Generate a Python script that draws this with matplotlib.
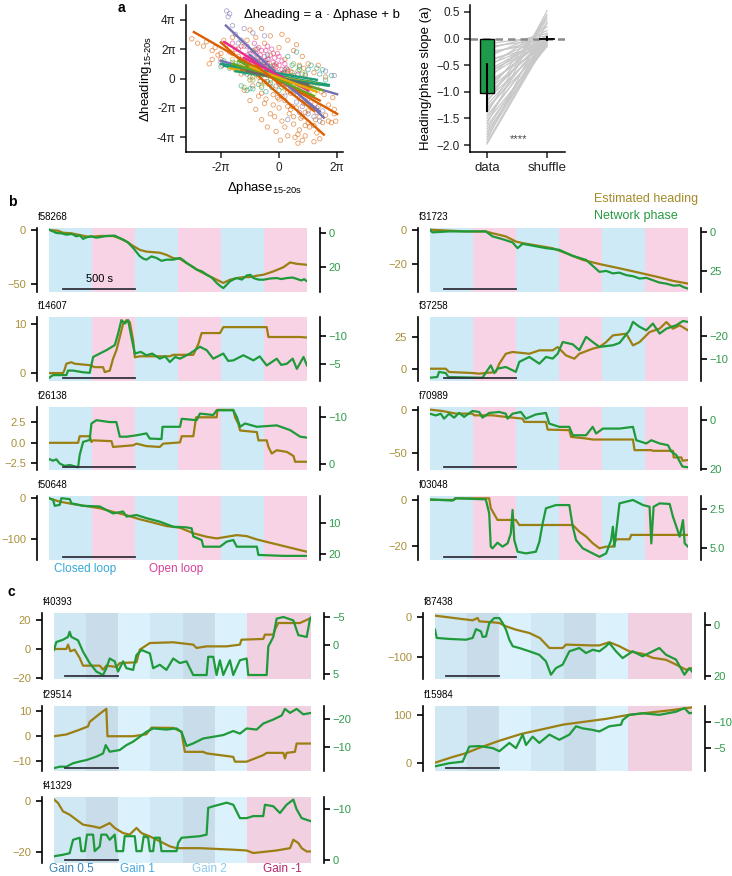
import numpy as np
import matplotlib
matplotlib.use("Agg")
import matplotlib.pyplot as plt
import matplotlib.transforms as mtransforms

plt.rcParams['font.family'] = ['Liberation Sans', 'DejaVu Sans']
plt.rcParams['mathtext.fontset'] = 'custom'
plt.rcParams['mathtext.rm'] = 'Liberation Sans'
plt.rcParams['axes.unicode_minus'] = True

W, H = 732, 876

# ---- panel a, left: scatter of heading vs phase changes (units of pi) ----
DARK2 = ["#1b9e77", "#d95f02", "#7570b3", "#e7298a", "#66a61e", "#e6ab02", "#a6761d", "#666666"]

orange_x = [-3.0, -2.8, -2.6, -2.5, -2.3, -2.2, -2.1, -2.0, -1.9, -1.8, -1.7, -1.6, -1.5, -1.4, -1.3, -1.2, -1.1, -1.0,
            -0.9, -0.8, -0.7, -0.6, -0.5, -0.4, -0.3, -0.2, -0.1, 0.0, 0.1, 0.2, 0.3, 0.4, 0.5, 0.6, 0.7, 0.8, 0.9, 1.0, 1.1,
            -1.2, -1.0, -0.9, -0.8, -0.7, -0.6, -0.5, -0.4, -0.3, -0.2, -0.1, 0.0, 0.05, 0.1, 0.2, 0.3, 0.35, 0.4, 0.5,
            0.55, 0.6, 0.7, 0.75, 0.8, 0.9, 1.0, 1.05, 1.1, 1.2, 1.25, 1.3, 1.35, 1.4, 1.5, 1.6, 1.7, 1.8, 1.9, 1.95, 1.85,
            1.45, 1.3, 0.95, -0.15, -0.35, -0.65, 0.25, 0.15, -1.5, -1.3, -1.0, -0.9, -0.7, -0.5, -0.3, -0.1, 0.0, 0.3,
            0.45, 0.6, 0.85, 1.2, 1.35, 1.6, -1.95, -2.0, -2.3, -2.4, 0.65, 0.9, 1.15, -0.05, 0.45, 0.75, 1.55,
            -0.2, 0.1, 0.4, 0.6, 0.85, 1.0, -0.45, 0.2, 0.5, 0.8, 1.15, 1.4, -0.6, 0.0, 0.3, 0.65, 0.9, 1.2, -1.6, -1.1,
            -0.75, -0.25, 1.7, 1.9]
orange_y = [2.7, 2.4, 2.2, 2.5, 1.9, 2.1, 1.6, 1.3, 2.6, 2.3, 1.8, 2.8, 2.0, 1.5, 2.2, 1.2, 2.6, 3.3,
            1.9, 2.8, 1.4, 3.4, 2.4, 1.0, 2.9, 1.7, 0.8, 2.1, 3.0, 1.3, 2.6, 0.5, 1.9, 2.3, 0.9, 1.5, 0.2, 1.0, -0.3,
            -0.8, -1.5, -0.5, -2.1, -1.2, -2.8, -1.7, -3.3, -2.4, -1.1, -3.6, -2.0, -4.2, -2.9, -1.5, -3.9, -2.4, -1.0, -3.1,
            -4.0, -2.0, -3.5, -1.4, -2.6, -3.9, -2.2, -3.3, -1.6, -4.3, -2.8, -3.7, -1.9, -4.1, -3.0, -2.5, -1.8, -3.0, -2.4, -2.9, -1.3,
            -0.9, -2.3, -0.6, -2.6, -0.4, -0.2, -0.4, 0.3, 0.6, 0.3, 0.9, 0.1, 0.6, -0.2, 0.4, -0.5, 0.2, -0.9,
            0.4, -0.3, 0.7, 0.4, 0.9, 0.1, 0.9, 1.7, 1.3, 1.0, -4.4, -3.2, -2.0, -1.3, -1.9, -2.7, -1.1,
            -1.8, -1.2, -2.1, -1.1, -1.7, -3.0, -1.4, -3.3, -2.6, -4.2, -2.0, -2.6, -1.0, -1.4, -1.9, -3.8, -2.3, -3.2, 1.7, 1.4,
            2.0, 0.4, -2.9, -2.1]
teal_x = [-2.0, -1.9, -1.7, -1.4, -1.2, -1.0, -0.8, -0.6, -0.5, -0.3, -0.2, 0.0, 0.2, 0.3, 0.5, 0.7, 0.9, 1.0, 1.2,
          1.4, 1.6, 1.8, -1.1, -0.9, 0.6, 0.4, -0.4, 1.1, -1.3, -0.7, -0.1, 0.1, 0.8, 1.3, -1.6, -0.45, 0.45, 1.5,
          -0.25, 0.65]
teal_y = [0.8, 1.2, 0.7, 0.9, 0.4, -0.7, 0.3, -0.6, 1.1, -0.3, 0.5, -0.8, 0.6, 1.5, 0.2, 0.8, 0.3, 0.6, -0.2,
          0.3, -0.1, 0.2, -0.8, -0.7, 1.8, -0.5, 1.6, 0.9, -0.5, -0.4, 0.4, -0.2, -0.4, 0.7, 1.1, -0.9, 0.9, 0.6,
          -0.6, 0.5]
purple_x = [-1.8, -1.7, -1.75, -1.5, -1.3, -1.0, -0.8, -0.6, -0.4, -0.2, 0.0, 0.2, 0.4, 0.6, 0.8, 1.0, 1.2, 1.4, 1.5,
            -1.2, -0.5, 0.3, 1.9, 1.6, -2.0, -1.9, -0.9, -1.6, -1.1, -0.7, -0.3, 0.1, 0.5, 0.9, 1.3, -1.4, 0.7]
purple_y = [4.6, 4.4, 4.2, 3.0, 2.6, 1.7, 2.0, 0.9, 1.3, 0.2, -0.4, -1.2, -0.6, -1.6, -1.9, -2.4, -2.6, -2.9, -2.2,
            3.4, 2.9, -2.8, 0.2, 0.5, 1.1, 1.0, 3.1, 3.6, 2.2, 1.2, 0.8, -0.1, -1.0, -1.5, -2.0, 2.4, -2.3]
pink_x = [-1.6, -1.4, -1.2, -1.1, -1.0, -0.9, -0.8, -0.7, -0.6, -0.5, -0.45, -0.4, -0.35, -0.3, -0.25, -0.2, -0.15, -0.1,
          0.0, 0.1, 0.15, 0.25, 0.35, 0.5, 0.65, 0.8, -0.55, -0.75, -0.95, -0.65, -0.25, -0.05, 0.2, 1.0, -1.3, -0.85,
          -0.9, -0.7, -0.5, -0.3, -0.1, 0.1, -0.8, -0.6, -0.4, -0.2, 0.0, 0.2, -1.0, -0.55, -0.35, -0.15, 0.05, 0.3,
          -0.75, -0.45]
pink_y = [2.4, 2.0, 2.2, 1.6, 1.9, 1.3, 1.7, 2.1, 1.2, 1.5, 1.9, 0.9, 1.3, 1.6, 0.7, 1.1, 1.4, 0.5,
          0.9, 1.2, 0.4, 0.7, 0.1, -0.2, 0.3, -0.5, 0.6, 0.9, 1.0, 1.6, 2.0, 1.7, -0.3, -1.0, 1.3, 2.4,
          0.6, 0.3, 0.8, 0.2, 1.0, 0.6, 1.1, 1.9, 2.2, 0.4, 1.5, 1.0, 1.3, 1.0, 0.5, 0.9, 0.3, 0.5,
          1.4, 1.2]
lgreen_x = [-1.5, -1.1, -0.9, -0.6, -0.3, 0.0, 0.3, 0.6, 0.9, 1.1, -0.4, 0.2, 1.3, -1.2, 0.5, -0.8, -0.2, 0.4, 0.8,
            -1.0, 0.1, 0.7, -0.5]
lgreen_y = [1.0, 0.5, -0.1, 0.2, -0.1, 0.1, -0.3, -0.6, -0.9, -0.4, 0.6, 0.4, -0.6, -0.6, 1.0, 0.7, 0.9, 0.2, 0.3,
            0.1, -0.6, 0.6, -0.3]
yellow_x = [-1.3, -0.9, -0.6, -0.3, 0.0, 0.4, 0.7, 1.0, -0.5, 0.2, 1.2, -1.6]
yellow_y = [0.8, 0.5, -0.5, 0.2, -0.1, -0.2, -0.5, -0.2, 0.9, -0.7, -1.0, 1.3]
brown_x = [-1.0, -0.5, 0.0, 0.5, 0.9, -0.7, 0.3]
brown_y = [-0.1, 0.4, -0.3, -0.8, -0.4, 0.1, 0.6]
grey_x = [-1.1, -0.4, 0.1, 0.6, 1.0]
grey_y = [0.3, -0.2, 0.3, -0.1, -0.7]

# per-fly linear fits: colour index, x range, slope a, intercept b
fit_color = [1, 1, 2, 2, 0, 3, 0, 4, 5, 1, 2, 3, 0, 6, 7, 4, 5, 1]
fit_x0 = [-2.93, -2.0, -1.83, -2.0, -1.89, -1.89, -2.0, -1.6, -1.7, -1.2, -1.0, -1.2, -1.5, -1.3, -1.1, -1.4, -1.0, -0.8]
fit_x1 = [2.0, 1.54, 1.54, 2.0, 1.71, 0.3, 1.3, 1.5, 1.4, 1.4, 1.4, 1.0, 1.7, 1.1, 1.0, 1.2, 1.3, 1.2]
fit_a = [-1.13, -1.77, -1.86, -0.57, -0.36, -1.23, -0.33, -0.58, -0.35, -0.96, -1.6, -1.0, -0.31, -0.5, -0.43, -0.92, -0.74, -1.55]
fit_b = [-0.15, -1.09, 0.2, 0.07, 0.18, 0.16, 0.34, 0.07, 0.1, -0.15, 0.0, 0.2, 0.03, -0.05, 0.03, -0.09, 0.06, -0.34]

# ---- panel a, right: slopes per fly ----
slope_data = [-0.10, -0.15, -0.20, -0.25, -0.30, -0.35, -0.40, -0.45, -0.50, -0.55, -0.60, -0.62, -0.68, -0.72,
              -0.78, -0.82, -0.88, -0.92, -0.98, -1.02, -1.05, -1.10, -1.15, -1.20, -1.25, -1.30, -1.35, -1.40,
              -1.45, -1.50, -1.55, -1.60, -1.65, -1.70, -1.75, -1.80, -1.85, -1.90, -1.95, -1.98]
slope_shuffle = [0.05, -0.02, 0.10, -0.08, 0.02, 0.15, -0.12, 0.03, -0.05, 0.22, 0.0, -0.10, 0.06, -0.03,
                 0.28, -0.14, 0.01, 0.08, -0.06, 0.35, -0.01, 0.04, -0.09, 0.40, 0.02, -0.13, 0.07, 0.45,
                 -0.04, 0.03, -0.15, 0.52, -0.07, 0.01, -0.11, 0.05, -0.02, 0.30, 0.0, -0.05]
data_mean = -1.02
data_err = (-1.37, -0.45)
shuffle_mean = 0.0
shuffle_err = (-0.05, 0.05)

# ---- panel b: closed/open loop traces (time s, value) ----
f58268_heading = [(0, 0), (63, -0.6), (98, -2.5), (156, -3), (214, -4.6), (266, -6), (308, -6.1), (354, -5.5), (447, -5.5),
                  (494, -7.7), (541, -10.7), (587, -14.7), (634, -18.4), (680, -20), (773, -21), (820, -23), (867, -26),
                  (914, -26.7), (960, -30.7), (1007, -34.4), (1053, -38.3), (1100, -41.4), (1146, -44.5), (1193, -47.5),
                  (1216, -49), (1263, -46), (1310, -44.5), (1356, -43.6), (1403, -43.6), (1450, -42.3), (1496, -41.4),
                  (1566, -38.3), (1636, -34.4), (1682, -30), (1729, -31.3), (1800, -32.2)]
f58268_phase = [(0, -2), (51, 0), (90, 0.3), (121, 1), (160, 0.6), (191, 2), (215, 1.4), (238, 3.5), (260, 2.6),
                (296, 2), (330, 2.8), (354, 2.5), (400, 1.8), (459, 1.6), (490, 2.9), (517, 3.9), (550, 5.5), (587, 8.8),
                (610, 11.2), (634, 13.7), (660, 15.2), (680, 15.7), (715, 13.8), (750, 14.7), (785, 16.4), (820, 15.7),
                (867, 15.7), (914, 14.7), (940, 16.2), (960, 17.6), (1000, 19.8), (1030, 21.6), (1065, 22.5),
                (1100, 24.5), (1135, 26.2), (1170, 29.4), (1195, 31.2), (1216, 32.4), (1240, 30.4), (1263, 28.4),
                (1290, 27.2), (1310, 26.5), (1345, 27.4), (1380, 25), (1405, 24.6), (1426, 26.5), (1460, 27.4),
                (1496, 27.5), (1540, 26.8), (1590, 26.5), (1620, 27.1), (1660, 26.5), (1700, 26.2), (1729, 27),
                (1760, 27.9), (1780, 27.2), (1800, 28.4)]
f14607_heading = [(0, 0), (98, 0), (109, 0.7), (121, 1.9), (156, 2.2), (179, 1.9), (284, 1.6), (319, 1.2), (377, 1.2),
                  (389, 0.2), (424, 0.5), (447, 2.9), (470, 4.6), (494, 7.3), (517, 10), (541, 10.7), (564, 10.3),
                  (587, 6.6), (599, 3.2), (634, 3.4), (843, 3.4), (867, 3.7), (1007, 3.7), (1042, 5.9), (1065, 8.1),
                  (1193, 8.1), (1216, 9.3), (1519, 9.3), (1531, 7.3), (1752, 7.3), (1800, 7.2)]
f14607_phase = [(0, -2.6), (28, -3.1), (121, -3.1), (133, -3.9), (168, -3.9), (238, -3.6), (284, -3.5), (308, -6.3),
                (354, -6.9), (401, -7.5), (459, -8.4), (482, -10.4), (505, -12.8), (529, -12.2), (552, -12.8), (575, -9.8),
                (599, -6.9), (640, -7.2), (680, -6.6), (720, -6.9), (773, -6.0), (810, -6.4), (843, -5.4), (880, -6.3),
                (914, -6.0), (983, -6.9), (1053, -8.1), (1100, -7.5), (1146, -6.0), (1216, -6.9), (1250, -5.6),
                (1286, -5.7), (1356, -6.6), (1426, -5.7), (1470, -6.4), (1519, -4.8), (1589, -6.0), (1620, -4.9),
                (1659, -5.1), (1700, -6.0), (1729, -4.2), (1776, -6.3), (1800, -4.8)]
f26138_heading = [(0, 0), (203, 0), (214, 0.8), (284, 0.8), (296, 0.1), (308, 0.3), (436, 0.2), (447, -0.5), (587, -0.3),
                  (611, -0.1), (680, -0.4), (773, -0.5), (797, -0.1), (914, 0.05), (926, 0.8), (1007, 0.8), (1026, 3.1),
                  (1170, 3.1), (1175, 4.0), (1286, 4.0), (1298, 3.1), (1321, 2.3), (1333, 1.5), (1450, 1.3), (1461, 0.3),
                  (1519, 0.3), (1531, -0.5), (1554, -1.3), (1589, -0.9), (1659, -1.1), (1706, -1.6), (1717, -2.3),
                  (1800, -2.3)]
f26138_phase = [(0, -1.06), (28, -0.7), (51, -1.0), (75, -0.1), (110, 0.4), (145, 0.2), (203, 0.7), (214, -1.9),
                (238, -4.7), (284, -5.1), (296, -8.6), (331, -9.3), (424, -8.9), (470, -8.9), (494, -5.8), (541, -5.8),
                (611, -6.1), (680, -6.5), (703, -5.4), (785, -5.3), (792, -7.9), (914, -7.9), (926, -9.6), (1030, -9.3),
                (1053, -10.7), (1146, -10.4), (1170, -11.4), (1286, -11.4), (1310, -10.0), (1333, -7.9), (1368, -8.6),
                (1450, -7.9), (1589, -8.2), (1682, -7.2), (1752, -5.8), (1800, -5.6)]
f50648_heading = [(0, 0), (75, -8), (168, -14), (261, -19), (354, -24), (447, -33), (541, -41), (634, -51), (727, -59),
                  (820, -67.5), (914, -71.5), (1007, -85), (1100, -93.5), (1170, -97.5), (1240, -93.5), (1310, -89.5),
                  (1380, -92), (1450, -100), (1519, -106), (1613, -114), (1706, -122), (1800, -130)]
f50648_phase = [(0, 2.3), (28, 2.8), (40, 4.7), (75, 4.4), (86, 2.3), (145, 2.6), (156, 3.9), (238, 4.7), (354, 4.9),
                (447, 7.1), (517, 6.5), (541, 8.1), (611, 7.6), (680, 8.6), (773, 9.7), (867, 11.3), (960, 11.5),
                (995, 11.8), (1007, 14.4), (1065, 15.5), (1077, 17.6), (1193, 17.6), (1240, 16), (1286, 15.5),
                (1310, 17.6), (1450, 17.6), (1461, 20.2), (1636, 20.5), (1800, 20.5)]
f31723_heading = [(0, 0), (250, -1), (389, -1), (433, -2), (529, -3.9), (599, -6.9), (646, -7.8), (856, -10.8),
                  (949, -13.7), (1066, -17.6), (1182, -20), (1322, -22.5), (1462, -25.1), (1602, -27.8), (1695, -29.8),
                  (1800, -31.4)]
f31723_phase = [(0, -1.5), (16, 0.2), (133, -0.4), (389, -0.4), (436, 2.8), (506, 4.6), (576, 6.7), (611, 10.4),
                (646, 7.6), (809, 10.4), (902, 11.5), (996, 15.4), (1089, 18), (1182, 25.7), (1230, 25.1), (1276, 26.7),
                (1320, 26.2), (1369, 27.8), (1420, 28.6), (1462, 30), (1510, 29.6), (1555, 31.1), (1600, 32.6),
                (1649, 33.3), (1700, 34.6), (1742, 34.3), (1770, 35.6), (1800, 36.5)]
f37258_heading = [(0, 0), (110, 0), (133, -2.6), (296, -3.4), (343, -3.9), (459, -2.6), (483, 3.9), (529, 11.8),
                  (576, 13.2), (693, 11.8), (763, 14.5), (856, 14.5), (891, 17.1), (949, 10.5), (1007, 7.9),
                  (1042, 11.8), (1135, 15.8), (1182, 17.1), (1229, 21), (1276, 26.3), (1369, 27.6), (1416, 18.4),
                  (1462, 21), (1532, 28.9), (1602, 31.6), (1649, 36.8), (1695, 31.6), (1742, 34.2), (1800, 30.3)]
f37258_phase = [(0, -2.1), (51, -2.4), (63, -4.6), (110, -4.1), (128, -2.4), (366, -2.1), (424, -7.4), (448, -4.1),
                (471, -6), (529, -6.7), (599, -4.6), (623, -8.9), (693, -11), (763, -8.1), (809, -11), (856, -10.3),
                (891, -12.4), (926, -17.4), (996, -16.4), (1042, -13.9), (1089, -19.6), (1135, -17.4), (1182, -15.3),
                (1276, -16), (1322, -17), (1392, -22.4), (1416, -26), (1462, -23.9), (1509, -22.4), (1555, -25.3),
                (1602, -21), (1649, -23.1), (1719, -24.6), (1765, -26.4), (1800, -26)]
f70989_heading = [(0, 0.8), (86, -0.8), (180, -3.9), (296, -3.9), (308, -5.9), (436, -5.9), (529, -7.8), (646, -9.8),
                  (658, -13.7), (809, -13.7), (821, -22.7), (972, -23.4), (984, -31.3), (1089, -33.2), (1135, -34.4),
                  (1416, -34.4), (1427, -46.9), (1544, -46.9), (1555, -47.7), (1695, -47.7), (1700, -55.5),
                  (1754, -55.5), (1761, -59.4), (1800, -58.6)]
f70989_phase = [(0, -2.4), (40, -1.7), (75, -2.4), (98, -0.4), (133, -2.4), (168, -0.8), (203, -2.7), (238, -1.1),
                (296, -3.5), (343, -3.1), (366, -0.8), (413, -2.7), (483, -3.1), (529, -2.4), (541, -0.4), (576, -2.4),
                (634, -3.1), (669, -0.4), (739, -2.1), (809, -2.7), (832, 1.6), (902, 2.9), (972, 2.9), (996, 6.3),
                (1089, 6.3), (1135, 2.9), (1159, 5.6), (1206, 3.6), (1322, 3.6), (1416, 2.9), (1439, 8.3), (1509, 9.6),
                (1544, 8.3), (1602, 9.6), (1660, 10.3), (1684, 12.9), (1719, 14.3), (1742, 16.9), (1761, 18.9),
                (1800, 19.2)]
f03048_heading = [(0, 0), (168, 0), (175, 0.7), (413, 0.7), (424, -3.6), (471, -8.7), (599, -8.7), (623, -10.9),
                  (996, -10.9), (1042, -13.8), (1089, -15.9), (1135, -18.8), (1182, -21), (1229, -20.3), (1276, -20.3),
                  (1299, -17.1), (1392, -17.1), (1404, -15.2), (1800, -15.2)]
f03048_phase = [(0, 1.85), (156, 1.93), (180, 1.78), (389, 1.85), (413, 2.76), (424, 4.93), (436, 5.04), (471, 4.67),
                (506, 4.93), (541, 4.72), (564, 4.07), (576, 2.54), (588, 4.5), (611, 5.26), (669, 5.37), (739, 5.26),
                (763, 4.61), (786, 3.41), (809, 2.43), (879, 2.22), (972, 2.22), (996, 3.63), (1019, 4.5), (1066, 5.04),
                (1135, 5.37), (1182, 5.59), (1229, 5.37), (1264, 4.5), (1276, 3.63), (1287, 4.93), (1322, 2.11),
                (1416, 1.89), (1486, 2.22), (1532, 2.33), (1544, 4.72), (1560, 2.33), (1602, 2.11), (1672, 2.15),
                (1695, 2.98), (1719, 3.63), (1742, 4.28), (1765, 3.2), (1777, 4.72), (1800, 4.93)]

# ---- panel c: gain-change traces ----
f40393_heading = [(0, 0), (115, 0), (131, 3), (153, -1.6), (193, -0.5), (240, -6.2), (271, -11.5), (428, -11.5),
                  (458, -14.3), (489, -11.5), (583, -12.4), (614, -9.7), (770, -9.2), (801, -0.5), (895, 4.1),
                  (1113, 4.6), (1300, 3), (1331, 0.7), (1425, 1.8), (1612, 1.8), (1736, 3), (1751, 6.4), (1954, 6.9),
                  (1970, 9.9), (2048, 9.9), (2063, 13.3), (2094, 17.9), (2297, 17.9), (2400, 21.4)]
f40393_phase = [(0, 0.8), (22, -0.6), (84, -1), (131, -1.5), (146, -2.4), (162, -1.5), (224, -0.9), (271, 1.1),
                (333, 3.1), (396, 4.6), (458, 5.2), (489, 4), (520, 2.3), (567, 2.8), (598, 4.6), (645, 2.8), (676, 4),
                (739, 4.3), (770, 1.7), (817, 0.8), (895, 1.4), (926, 4), (988, 3.4), (1050, 4.3), (1113, 2.3),
                (1175, 3.1), (1237, 2.8), (1300, 5.2), (1425, 5.2), (1440, 2), (1487, 2), (1518, 5.2), (1549, 2.6),
                (1581, 5.2), (1643, 2.6), (1674, 5.2), (1736, 2.6), (1799, 2.3), (1814, 5.2), (1986, 5.2), (2001, 0.2),
                (2048, -1.5), (2079, -4.7), (2141, -5), (2235, -4.4), (2282, -1.8), (2360, -1.5), (2391, -4.7),
                (2400, -4.9)]
f29514_heading = [(0, 0), (115, 0.7), (240, 2.6), (318, 3.9), (333, 5.7), (427, 8.9), (489, 10.9), (499, 0), (739, 0),
                  (863, 0.8), (910, 3.4), (1113, 3.3), (1191, 1.7), (1222, -6.2), (1393, -6.2), (1425, -6.8),
                  (1674, -8.2), (1690, -10.1), (1799, -10.1), (1954, -7.5), (1986, -6.6), (2141, -6.6), (2157, -8.8),
                  (2172, -6.6), (2250, -6.2), (2266, -2.9), (2400, -2.9)]
f29514_phase = [(0, -2.8), (53, -3.3), (115, -3.3), (178, -4.5), (240, -5.1), (302, -5.6), (396, -6.8), (458, -7.9),
                (483, -10.8), (520, -8.5), (614, -9.1), (676, -10.8), (739, -12), (801, -13.7), (863, -15.4),
                (926, -16.6), (1050, -16.2), (1144, -16.6), (1191, -15.4), (1238, -10.5), (1300, -11.4), (1393, -13.1),
                (1487, -13.7), (1581, -14.3), (1674, -15.7), (1736, -14.8), (1799, -16.6), (1892, -16.2), (1954, -18.3),
                (2048, -19.7), (2126, -21.1), (2157, -23.4), (2204, -22), (2266, -23.4), (2328, -21.5), (2400, -22)]
f41329_heading = [(0, 0.4), (37, -0.9), (84, -4.2), (146, -5.5), (209, -7.5), (271, -9.4), (365, -10.1), (427, -10.7),
                  (520, -8.8), (567, -10.7), (645, -12.7), (707, -13.3), (770, -10.7), (817, -12.7), (895, -14),
                  (988, -15.9), (1082, -17.9), (1144, -18.6), (1362, -18.6), (1674, -19.2), (1799, -19.5),
                  (1861, -20.5), (2079, -19.5), (2204, -18.6), (2235, -15.3), (2282, -16.6), (2313, -18.6),
                  (2360, -19.9), (2400, -19.9)]
f41329_phase = [(0, -0.8), (84, -1.1), (146, -1.4), (178, -4), (240, -4.4), (255, -1.8), (287, -1.8), (308, -5),
                (365, -5), (380, -1.8), (427, -2.7), (442, -5), (489, -5), (520, -4), (567, -5), (583, -1.8), (645, -1.8),
                (660, -4.7), (754, -4.7), (770, -1.8), (817, -1.8), (838, -4.7), (879, -4.4), (895, -1.8), (926, -1.8),
                (941, -4.4), (988, -4.4), (1004, -1.8), (1144, -1.8), (1160, -3.4), (1191, -4.4), (1362, -4.7),
                (1425, -5), (1440, -10.2), (1487, -10.5), (1612, -11.2), (1674, -10.8), (1736, -8.2), (1799, -8.2),
                (1861, -8.6), (1954, -8.6), (1970, -10.8), (2048, -10.5), (2110, -9.2), (2172, -10.8), (2235, -11.8),
                (2266, -9.9), (2313, -8.2), (2400, -7.6)]
f87438_heading = [(0, 3.3), (103, 0), (227, -4.2), (352, -8.3), (398, -2.5), (414, -10.8), (538, -13.3), (601, -15),
                  (663, -23.3), (756, -31.7), (881, -40), (979, -52.5), (1068, -77.5), (1192, -77.5), (1223, -69),
                  (1457, -71), (1535, -71), (1628, -63), (1721, -73), (1815, -86), (1940, -92), (2033, -102),
                  (2158, -107), (2251, -119), (2345, -132), (2400, -127.5)]
f87438_phase = [(0, 1.7), (16, 5), (134, 5.4), (289, 5.7), (352, 5), (383, 1.5), (429, 2.4), (445, 4.6), (476, 4.4),
                (507, -0.9), (554, -2.9), (601, -2.9), (632, -0.9), (663, 1.7), (694, 5.7), (726, 8.3), (788, 9),
                (881, 10.3), (974, 11.7), (1036, 14.3), (1083, 19.6), (1129, 17), (1192, 15.6), (1255, 10.3),
                (1348, 9), (1410, 11), (1473, 9.7), (1535, 10.3), (1597, 8.3), (1628, 7), (1690, 10.3), (1752, 13),
                (1846, 10.3), (1939, 12.3), (2033, 10.3), (2095, 9), (2158, 11.7), (2251, 13.6), (2329, 19.6),
                (2375, 17), (2400, 18.3)]
f15984_heading = [(0, 0), (165, 12), (290, 20), (400, 30), (600, 46), (800, 60), (1000, 70), (1200, 80), (1400, 86),
                  (1600, 92), (1800, 100), (2000, 105), (2200, 110), (2400, 116)]
f15984_phase = [(0, -1.5), (134, -2.1), (258, -2.4), (321, -5.3), (414, -5.4), (539, -5), (601, -4.4), (694, -6),
                (756, -5), (819, -7.6), (850, -5.6), (912, -7.2), (974, -6), (1068, -7.6), (1161, -6.6), (1255, -7.6),
                (1317, -9.2), (1379, -8.8), (1472, -8.5), (1535, -8.2), (1628, -9.2), (1737, -9.5), (1753, -10.4),
                (1815, -11.4), (1939, -11.7), (2095, -11.4), (2251, -12), (2329, -12.7), (2375, -11.7), (2400, -11.8)]

# colours
HEAD_C = "#9b7f12"
HEAD_TICK = "#a8903a"
PHASE_C = "#1f9a3a"
PHASE_TICK = "#2f9a4a"
CL_C = "#cdeaf6"
OL_C = "#f8d3e5"
G05_C = "#c8dcea"
G1_C = "#cfe8f4"
G2_C = "#dbf1fb"
GN_C = "#f0d0e1"
BLOCK = 300.0


def rect(x0, y0, x1, y1):
    return [x0 / W, 1 - y1 / H, (x1 - x0) / W, (y1 - y0) / H]


def trace_panel(fig, r, name, heading, phase, hlim, hticks, plim, pticks, blocks, bar_text=None):
    ax = fig.add_axes(r)
    tw = ax.twinx()
    for i, c in enumerate(blocks):
        ax.axvspan(i * BLOCK, (i + 1) * BLOCK, color=c, lw=0, zorder=0)
    t, v = zip(*heading)
    ax.plot(t, v, color=HEAD_C, lw=1.6, zorder=2)
    t, v = zip(*phase)
    tw.plot(t, v, color=PHASE_C, lw=1.6, zorder=2)
    ax.set_xlim(0, len(blocks) * BLOCK)
    ax.set_ylim(*hlim)
    tw.set_ylim(*plim)
    ax.set_yticks(hticks)
    tw.set_yticks(pticks)
    ax.set_xticks([])
    for a in (ax, tw):
        for s in ("top", "bottom"):
            a.spines[s].set_visible(False)
    ax.spines["right"].set_visible(False)
    tw.spines["left"].set_visible(False)
    ax.spines["left"].set_position(("outward", 9))
    tw.spines["right"].set_position(("outward", 9))
    ax.spines["left"].set_linewidth(1.2)
    tw.spines["right"].set_linewidth(1.2)
    ax.tick_params(axis="y", labelcolor=HEAD_TICK, labelsize=8, length=4, width=1.2)
    tw.tick_params(axis="y", labelcolor=PHASE_TICK, labelsize=8, length=4, width=1.2, pad=2.5)
    trans = mtransforms.blended_transform_factory(ax.transData, ax.transAxes)
    tw.plot([100, 600], [0.05, 0.05], color="#33333d", lw=1.3, transform=trans, zorder=3)
    if bar_text:
        tw.text(350, 0.2, bar_text, transform=trans, ha="center", va="center", fontsize=8, zorder=3)
    ax.annotate(name, xy=(0, 1), xycoords="axes fraction", xytext=(-8, 4), textcoords="offset points",
                fontsize=7, ha="left", va="bottom")
    return ax


fig = plt.figure(figsize=(W / 100, H / 100), dpi=100)

# ---- a left ----
ax = fig.add_axes(rect(186, 5, 343, 152))
groups = [(orange_x, orange_y, 1), (teal_x, teal_y, 0), (purple_x, purple_y, 2), (pink_x, pink_y, 3),
          (lgreen_x, lgreen_y, 4), (yellow_x, yellow_y, 5), (brown_x, brown_y, 6), (grey_x, grey_y, 7)]
for gx, gy, ci in groups:
    ax.scatter(gx, gy, s=10, facecolors="none", edgecolors=DARK2[ci], linewidths=0.6, alpha=0.6, zorder=2)
for ci, x0, x1, a, b in zip(fit_color, fit_x0, fit_x1, fit_a, fit_b):
    xs = np.array([x0, x1])
    ax.plot(xs, a * xs + b, color=DARK2[ci], lw=1.7, zorder=3)
ax.set_xlim(-3.2, 2.2)
ax.set_ylim(-5, 5)
ax.set_xticks([-2, 0, 2])
ax.set_xticklabels(["-2π", "0", "2π"])
ax.set_yticks([-4, -2, 0, 2, 4])
ax.set_yticklabels(["-4π", "-2π", "0", "2π", "4π"])
for s in ("top", "right"):
    ax.spines[s].set_visible(False)
for s in ("left", "bottom"):
    ax.spines[s].set_linewidth(1.1)
ax.tick_params(labelsize=8.5, length=4, width=1.1, colors="#222222")
ax.set_xlabel("Δphase$_{\\mathregular{15‐20s}}$", fontsize=9.5, labelpad=4)
ax.set_ylabel("Δheading$_{\\mathregular{15‐20s}}$", fontsize=9.5, labelpad=2)
ax.text(0.37, 0.93, "Δheading = a · Δphase + b", transform=ax.transAxes, fontsize=9.5, ha="left", va="center")

# ---- a right ----
ax = fig.add_axes(rect(470, 5, 565, 152))
for d, s in zip(slope_data, slope_shuffle):
    ax.plot([0, 1], [d, s], color="#c8c8c8", lw=0.9, zorder=1)
ax.axhline(0, color="#8a8a8a", lw=1.8, ls=(0, (3, 2)), zorder=2)
ax.bar([0], [data_mean], width=0.22, color="#1f9a4a", edgecolor="black", lw=1, zorder=3)
ax.vlines(0, data_err[0], data_err[1], color="black", lw=1.5, zorder=4)
ax.plot([0.89, 1.11], [shuffle_mean, shuffle_mean], color="black", lw=1.3, zorder=4)
ax.vlines(1, shuffle_err[0], shuffle_err[1], color="black", lw=1.3, zorder=4)
ax.text(0.53, -1.89, "****", ha="center", va="center", fontsize=8, color="#444444")
ax.set_xlim(-0.283, 1.3)
ax.set_ylim(-2.13, 0.63)
ax.set_xticks([0, 1])
ax.set_xticklabels(["data", "shuffle"], fontsize=9.5)
ax.set_yticks([-2.0, -1.5, -1.0, -0.5, 0.0, 0.5])
for s in ("top", "right"):
    ax.spines[s].set_visible(False)
for s in ("left", "bottom"):
    ax.spines[s].set_linewidth(1.1)
ax.tick_params(axis="y", labelsize=8.5)
ax.tick_params(length=4, width=1.1, colors="#222222")
ax.set_ylabel("Heading/phase slope (a)", fontsize=9.5, labelpad=3)

# ---- b ----
b_blocks = [CL_C, OL_C, CL_C, OL_C, CL_C, OL_C]
trace_panel(fig, rect(49, 228, 307, 292), "f58268", f58268_heading, f58268_phase,
            (-57.4, 1.9), [-50, 0], (34.7, -2.9), [0, 20], b_blocks, "500 s")
trace_panel(fig, rect(49, 317, 307, 381), "f14607", f14607_heading, f14607_phase,
            (-1.6, 11.35), [0, 10], (-2.06, -13.35), [-10, -5], b_blocks)
trace_panel(fig, rect(49, 407, 307, 470), "f26138", f26138_heading, f26138_phase,
            (-3.3, 4.35), [-2.5, 0.0, 2.5], (1.27, -12.1), [-10, 0], b_blocks)
trace_panel(fig, rect(49, 496, 307, 560), "f50648", f50648_heading, f50648_phase,
            (-150, 5.7), [-100, 0], (21.8, 1.6), [10, 20], b_blocks)
trace_panel(fig, rect(430, 228, 688, 292), "f31723", f31723_heading, f31723_phase,
            (-36.3, 1), [-20, 0], (38.7, -2.6), [0, 25], b_blocks)
trace_panel(fig, rect(430, 317, 688, 381), "f37258", f37258_heading, f37258_phase,
            (-9.7, 40.8), [0, 25], (-0.7, -28.1), [-20, -10], b_blocks)
trace_panel(fig, rect(430, 407, 688, 470), "f70989", f70989_heading, f70989_phase,
            (-70.3, 3.9), [-50, 0], (20.3, -5.1), [0, 20], b_blocks)
trace_panel(fig, rect(430, 496, 688, 560), "f03048", f03048_heading, f03048_phase,
            (-26.1, 1.7), [-20, 0], (5.8, 1.63), [2.5, 5.0], b_blocks)

fig.text(594 / W, 1 - 199 / H, "Estimated heading", color="#a38a2a", fontsize=9, va="center")
fig.text(594 / W, 1 - 216 / H, "Network phase", color="#2a9a44", fontsize=9, va="center")
fig.text(54 / W, 1 - 569 / H, "Closed loop", color="#35a8d8", fontsize=8.5, va="center")
fig.text(149 / W, 1 - 569 / H, "Open loop", color="#d8409a", fontsize=8.5, va="center")

# ---- c ----
c_blocks = [G1_C, G05_C, G2_C, G1_C, G05_C, G2_C, GN_C, GN_C]
trace_panel(fig, rect(54, 613, 311, 679), "f40393", f40393_heading, f40393_phase,
            (-20.7, 24.8), [-20, 0, 20], (5.9, -5.7), [-5, 0, 5], c_blocks)
trace_panel(fig, rect(54, 706, 311, 771), "f29514", f29514_heading, f29514_phase,
            (-13.8, 12), [-10, 0, 10], (-1.8, -24.4), [-20, -10], c_blocks)
trace_panel(fig, rect(54, 797, 311, 863), "f41329", f41329_heading, f41329_phase,
            (-24.4, 1.4), [-20, 0], (0.5, -12.3), [-10, 0], c_blocks)
trace_panel(fig, rect(435, 613, 692, 679), "f87438", f87438_heading, f87438_phase,
            (-155, 10), [-100, 0], (21.3, -4.9), [0, 20], c_blocks)
trace_panel(fig, rect(435, 706, 692, 771), "f15984", f15984_heading, f15984_phase,
            (-17.4, 118.9), [0, 100], (-0.6, -13.1), [-10, -5], c_blocks)

fig.text(49 / W, 1 - 869 / H, "Gain 0.5", color="#3b84b8", fontsize=8.5, va="center")
fig.text(120 / W, 1 - 869 / H, "Gain 1", color="#45a9dc", fontsize=8.5, va="center")
fig.text(192 / W, 1 - 869 / H, "Gain 2", color="#8ccbea", fontsize=8.5, va="center")
fig.text(263 / W, 1 - 869 / H, "Gain -1", color="#b4286c", fontsize=8.5, va="center")

# panel letters
fig.text(118 / W, 1 - 8 / H, "a", fontsize=10, weight="bold", va="center")
fig.text(8 / W, 1 - 202 / H, "b", fontsize=10, weight="bold", va="center")
fig.text(8 / W, 1 - 592 / H, "c", fontsize=10, weight="bold", va="center")

fig.savefig("out.png", dpi=100)
